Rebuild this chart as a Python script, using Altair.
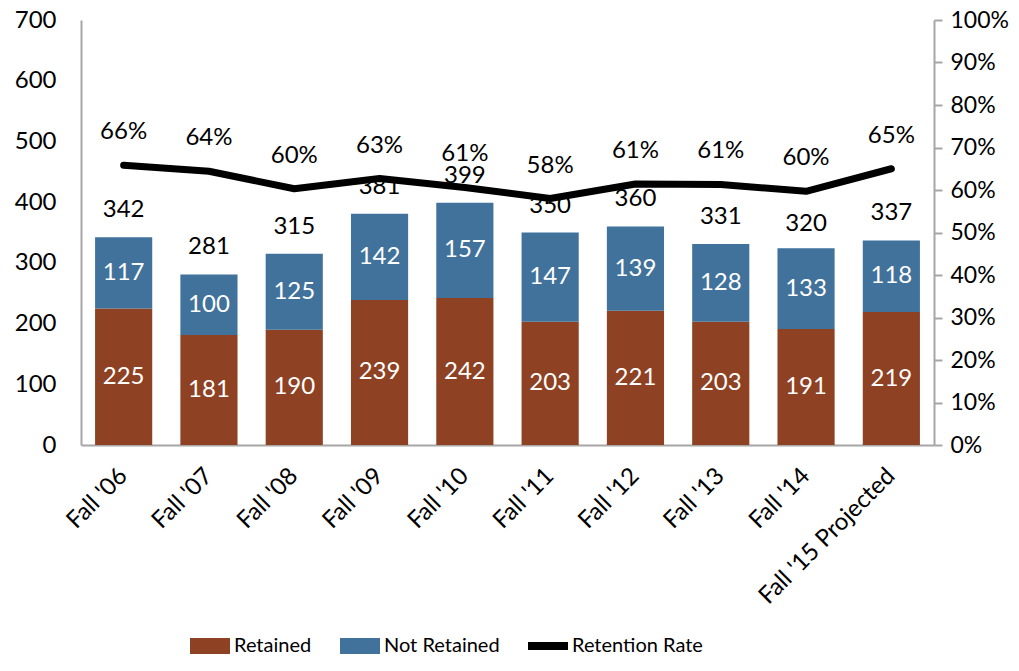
import altair as alt
import pandas as pd

categories = ["Fall '06", "Fall '07", "Fall '08", "Fall '09", "Fall '10",
              "Fall '11", "Fall '12", "Fall '13", "Fall '14", "Fall '15 Projected"]
retained = [225, 181, 190, 239, 242, 203, 221, 203, 191, 219]
not_retained = [117, 100, 125, 142, 157, 147, 139, 128, 133, 118]
totals = [342, 281, 315, 381, 399, 350, 360, 331, 320, 337]
retention_rate = [0.658, 0.644, 0.603, 0.627, 0.606, 0.580, 0.614, 0.613, 0.597, 0.650]

BROWN = "#8E4123"
BLUE = "#41729B"
FONT = "Lato"
FS = 24

rows = []
for c, r, n in zip(categories, retained, not_retained):
    rows.append({"cat": c, "status": "Retained", "value": r, "ord": 0})
    rows.append({"cat": c, "status": "Not Retained", "value": n, "ord": 1})
long_df = pd.DataFrame(rows)
tot_df = pd.DataFrame({"cat": categories, "total": totals})
rate_df = pd.DataFrame({"cat": categories, "rate": retention_rate,
                        "series": "Retention Rate"})

xenc = alt.X("cat:N", sort=categories, title=None,
             scale=alt.Scale(paddingInner=0.33, paddingOuter=0.165),
             axis=alt.Axis(labelAngle=-45, labelAlign="right", labelBaseline="middle",
                           labelPadding=27, ticks=False, labelLimit=400,
                           domainColor="#A6A6A6", domainWidth=2,
                           labelFontSize=FS, labelFont=FONT, labelColor="black"))

color_scale = alt.Scale(domain=["Retained", "Not Retained", "Retention Rate"],
                        range=[BROWN, BLUE, "black"])

legend = alt.Legend(
    title=None, orient="none", direction="horizontal", legendX=109, legendY=606,
    symbolSize=1600, labelFontSize=20, labelFont=FONT, labelColor="black",
    columnPadding=28, labelOffset=4, symbolStrokeWidth=0, symbolOpacity=1,
    symbolType=alt.ExprRef(expr="datum.label === 'Retention Rate' ? 'M-1,-0.2H1V0.2H-1Z' : 'M-1,-0.4H1V0.4H-1Z'"),
    symbolFillColor=alt.ExprRef(expr="scale('color', datum.value)"),
)

yleft = alt.Y("value:Q", stack="zero", title=None,
              scale=alt.Scale(domain=[0, 700]),
              axis=alt.Axis(values=list(range(0, 701, 100)), grid=False, ticks=False,
                            labelPadding=25, domainColor="#A6A6A6", domainWidth=2,
                            labelFontSize=FS, labelFont=FONT, labelColor="black"))

bars = alt.Chart(long_df).mark_bar().encode(
    x=xenc,
    y=yleft,
    color=alt.Color("status:N", scale=color_scale, legend=legend),
    order=alt.Order("ord:Q"),
)

seg_text = alt.Chart(long_df).transform_stack(
    stack="value", groupby=["cat"], as_=["y0", "y1"],
    sort=[alt.SortField("ord", order="ascending")]
).transform_calculate(mid="(datum.y0 + datum.y1) / 2").mark_text(
    color="white", fontSize=FS, font=FONT, baseline="middle"
).encode(x=alt.X("cat:N", sort=categories), y=alt.Y("mid:Q"), text="value:Q")

tot_text = alt.Chart(tot_df).mark_text(
    color="black", fontSize=FS, font=FONT, baseline="middle", dy=-27
).encode(x=alt.X("cat:N", sort=categories), y=alt.Y("total:Q"), text="total:Q")

left = alt.layer(bars, seg_text, tot_text)

yright = alt.Y("rate:Q", title=None, scale=alt.Scale(domain=[0, 1]),
               axis=alt.Axis(orient="right", format=".0%", values=[i / 10 for i in range(11)],
                             grid=False, tickSize=8, tickColor="#A6A6A6", tickWidth=2,
                             labelPadding=8, domainColor="#A6A6A6", domainWidth=2,
                             labelFontSize=23, labelFont=FONT, labelColor="black"))

line = alt.Chart(rate_df).mark_line(strokeWidth=7, strokeCap="round", strokeJoin="round").encode(
    x=alt.X("cat:N", sort=categories),
    y=yright,
    color=alt.Color("series:N", scale=color_scale, legend=legend),
)

rate_text = alt.Chart(rate_df).mark_text(
    color="black", fontSize=FS, font=FONT, baseline="middle", dy=-33
).encode(x=alt.X("cat:N", sort=categories), y=alt.Y("rate:Q"),
         text=alt.Text("rate:Q", format=".0%"))

right = alt.layer(line, rate_text)

chart = alt.layer(left, right).resolve_scale(y="independent").properties(
    width=853, height=425,
    autosize=alt.AutoSizeParams(type="none"),
    padding={"left": 73, "top": 12, "right": 77, "bottom": 213},
).configure_view(stroke=None)

chart.save("out.html", embed_options={"renderer": "svg", "actions": False})
